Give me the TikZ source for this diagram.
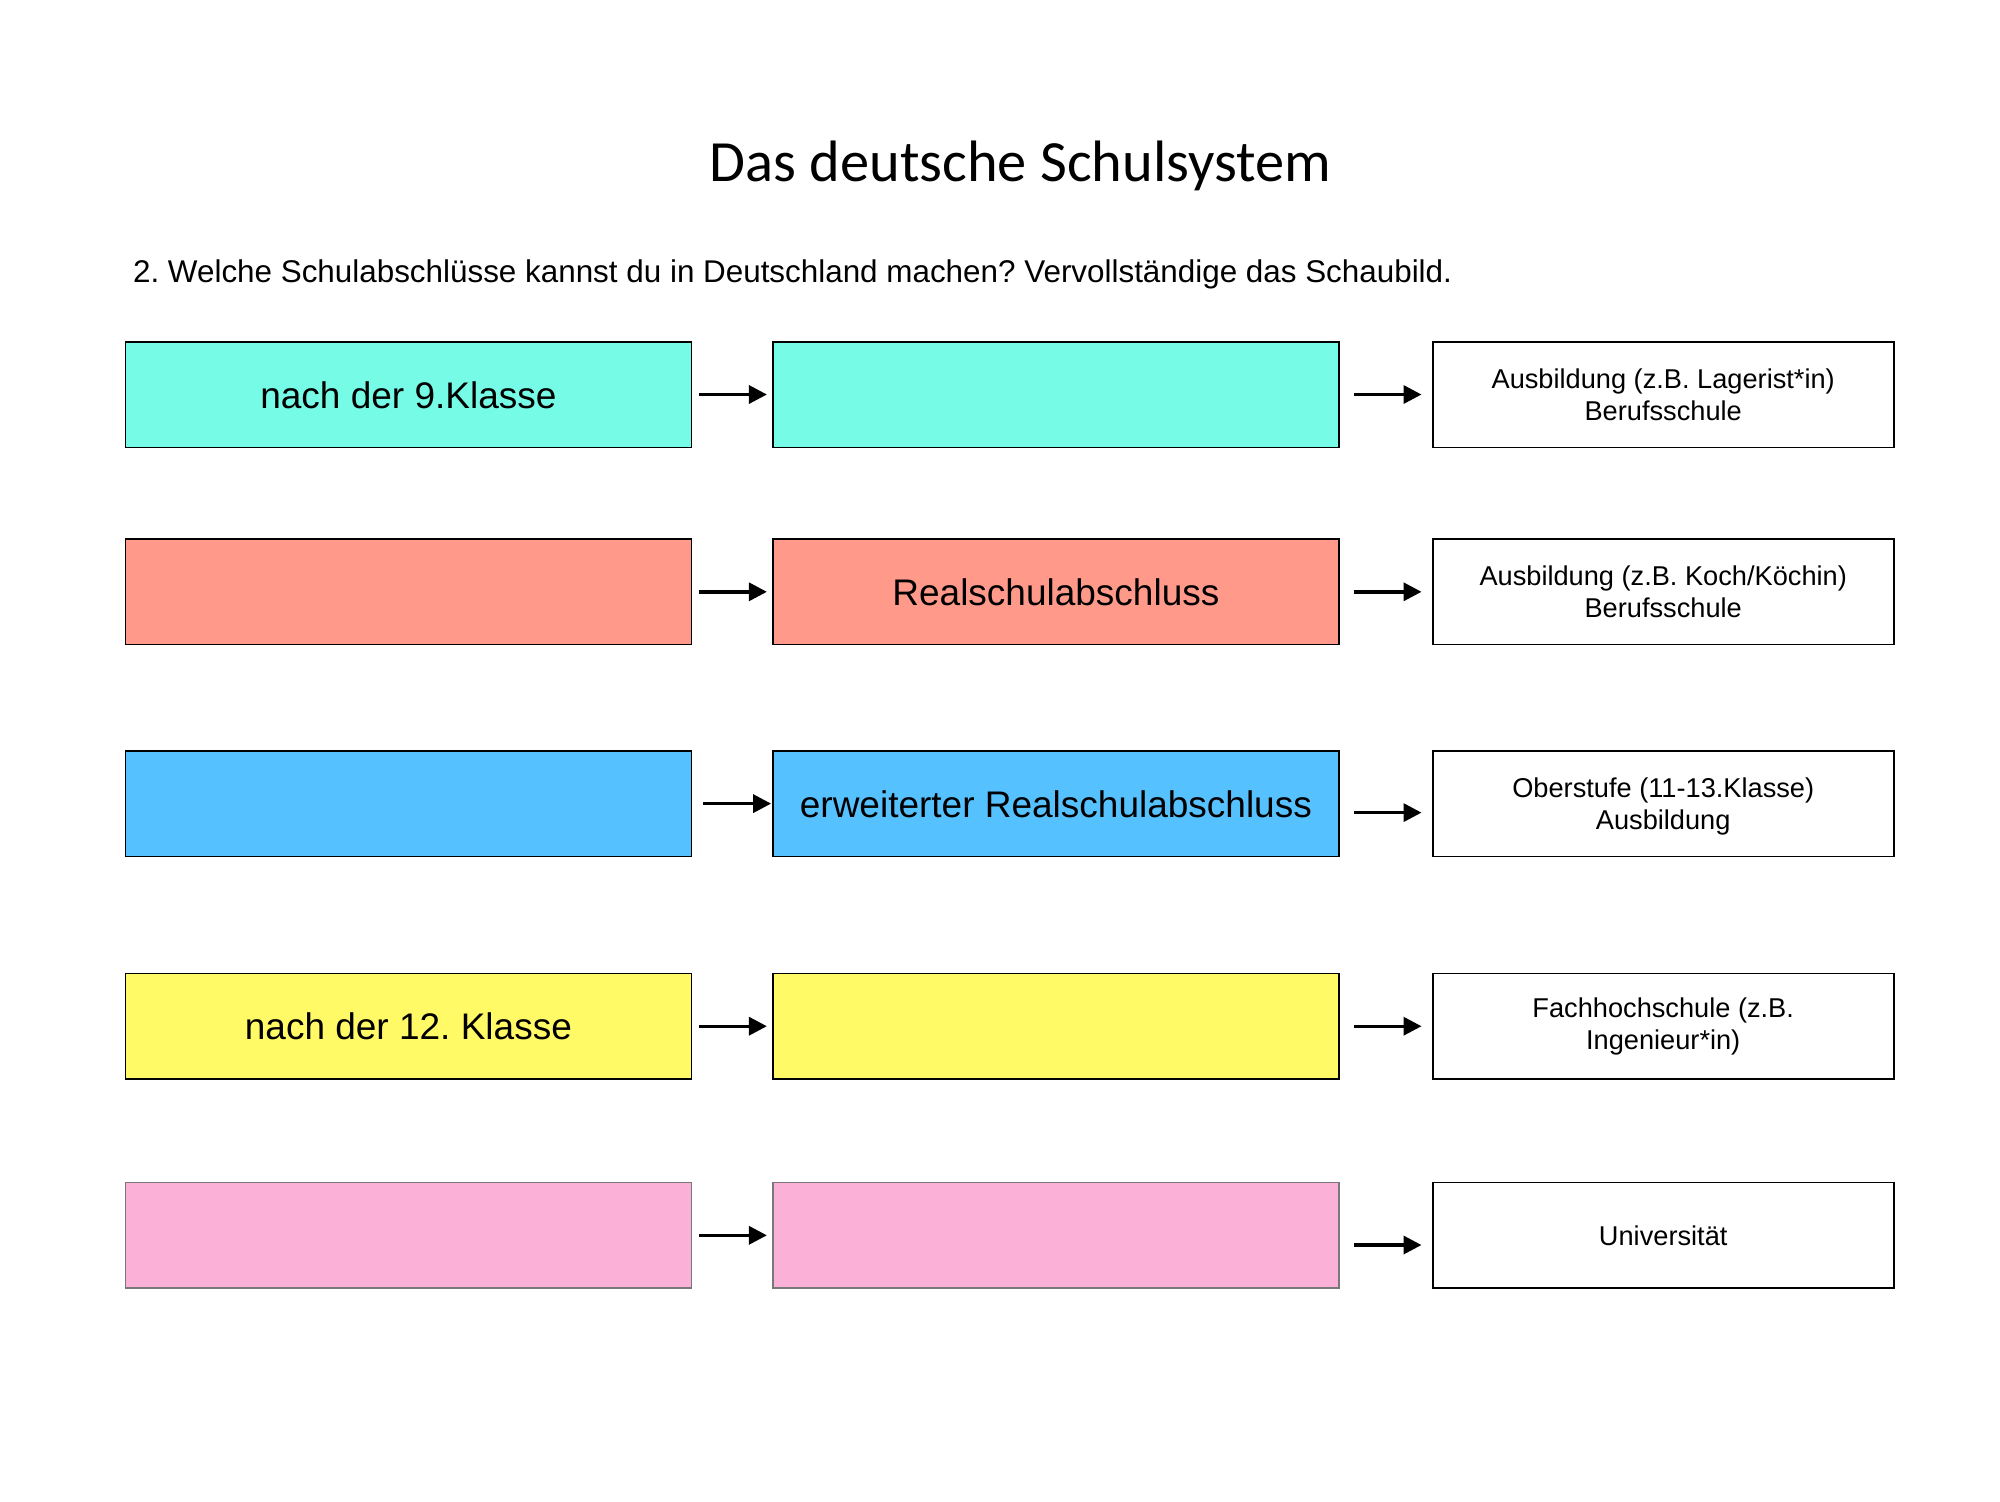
\documentclass[tikz,border=0pt]{standalone}
\usepackage{fontspec}
\setmainfont{Liberation Sans}
\newfontfamily\titlefont{Carlito}
\usetikzlibrary{arrows.meta}
\definecolor{ccyan}{RGB}{117,251,230}
\definecolor{csalmon}{RGB}{255,153,138}
\definecolor{cblue}{RGB}{86,193,255}
\definecolor{cyellow}{RGB}{255,250,101}
\definecolor{cpink}{RGB}{251,177,215}
\definecolor{cgray}{RGB}{120,120,120}
\frenchspacing
\begin{document}
\begin{tikzpicture}[x=0.5pt,y=-0.5pt,
  box/.style={draw=black,line width=0.8pt,inner sep=0pt,minimum width=283pt,minimum height=52.8pt,
    font=\fontsize{18.5}{22}\selectfont,text height=13.5pt,text depth=0pt},
  endbox/.style={draw=black,fill=white,line width=0.8pt,inner sep=0pt,minimum width=230.5pt,minimum height=52.8pt,
    align=center,font=\fontsize{13.6}{16}\selectfont},
  arr/.style={line width=1.7pt,-{Triangle[length=9pt,width=9pt]}},
  larr/.style={arr,shorten <=3.4pt,shorten >=2.6pt},
  rarr/.style={arr,shorten <=7.2pt,shorten >=5.2pt}]
\useasboundingbox (0,0) rectangle (2000,1501);
\fill[white] (0,0) rectangle (2000,1501);

\node[anchor=base,font=\titlefont\fontsize{29.2}{35}\selectfont] (title) at (1020.5,181) {Das deutsche Schulsystem};
\node[anchor=base west,inner sep=0pt,font=\fontsize{15.7}{19}\selectfont] (sub) at (132.7,282)
  {2. Welche Schulabschlüsse kannst du in Deutschland machen? Vervollständige das Schaubild.};

% row 1
\node[box,fill=ccyan] (a1) at (408.4,394.5) {nach der 9.Klasse};
\node[box,fill=ccyan] (b1) at (1055.9,394.5) {};
\node[endbox] (c1) at (1663.2,394.5) {Ausbildung (z.B. Lagerist*in)\\Berufsschule};
% row 2
\node[box,fill=csalmon] (a2) at (408.4,591.8) {};
\node[box,fill=csalmon] (b2) at (1055.9,591.8) {Realschulabschluss};
\node[endbox] (c2) at (1663.2,591.8) {Ausbildung (z.B. Koch/Köchin)\\Berufsschule};
% row 3
\node[box,fill=cblue] (a3) at (408.4,803.6) {};
\node[box,fill=cblue] (b3) at (1055.9,803.6) {erweiterter Realschulabschluss};
\node[endbox] (c3) at (1663.2,803.6) {Oberstufe (11-13.Klasse)\\\raisebox{0pt}[\height][0pt]{Ausbildung}};
% row 4
\node[box,fill=cyellow] (a4) at (408.4,1026.2) {nach der 12. Klasse};
\node[box,fill=cyellow] (b4) at (1055.9,1026.2) {};
\node[endbox] (c4) at (1663.2,1026.2) {Fachhochschule (z.B.\\Ingenieur*in)};
% row 5
\node[box,draw=cgray,fill=cpink] (a5) at (408.4,1235.3) {};
\node[box,draw=cgray,fill=cpink] (b5) at (1055.9,1235.3) {};
\node[endbox] (c5) at (1663.2,1235.3) {Universität};

% arrows
\draw[larr] (a1) -- (b1);
\draw[rarr] (b1) -- (c1);
\draw[larr] (a2) -- (b2);
\draw[rarr] (b2) -- (c2);
\draw[arr,shorten <=5.5pt,shorten >=0.5pt] (a3) -- (b3);
\draw[rarr] ([yshift=-4.5pt]b3.east) -- ([yshift=-4.5pt]c3.west);
\draw[larr] (a4) -- (b4);
\draw[rarr] (b4) -- (c4);
\draw[larr] (a5) -- (b5);
\draw[rarr] ([yshift=-4.85pt]b5.east) -- ([yshift=-4.85pt]c5.west);
\end{tikzpicture}
\end{document}
